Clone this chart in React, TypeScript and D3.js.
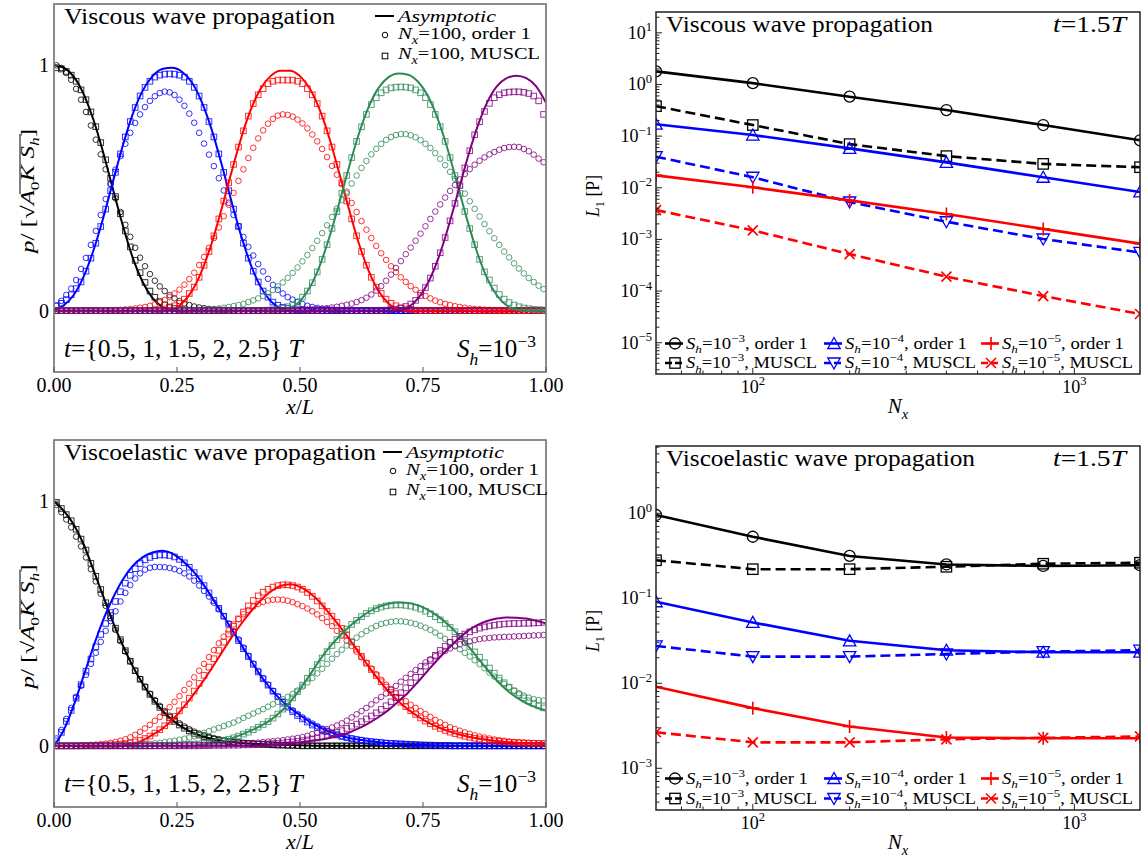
import * as d3 from "d3"

// cell centres of the N_x = 100 grid, and the sampling of the asymptotic curves
const cellX = d3.range(100).map(i => (i + 0.5) / 100)
const lineX = d3.range(51).map(j => j / 50)

// ---------- viscous wave, p / sqrt(A0 K Sh) ----------
const viscLineBlack = [1, .99, .954, .884, .779, .645, .494, .346, .216, .118,
  .052, .015, .002, 0, 0, 0, 0, 0, 0, 0,
  0, 0, 0, 0, 0, 0, 0, 0, 0, 0,
  0, 0, 0, 0, 0, 0, 0, 0, 0, 0,
  0, 0, 0, 0, 0, 0, 0, 0, 0, 0, 0]
const viscLineBlue = [.003, .022, .064, .138, .244, .378, .527, .674, .801, .896,
  .955, .985, .99, .974, .931, .852, .741, .602, .451, .308,
  .187, .097, .04, .01, .001, 0, 0, 0, 0, 0,
  0, 0, 0, 0, 0, 0, 0, 0, 0, 0,
  0, 0, 0, 0, 0, 0, 0, 0, 0, 0, 0]
const viscLineRed = [0, 0, 0, 0, 0, 0, 0, 0, 0, 0,
  0, .001, .005, .029, .079, .16, .272, .41, .559, .701,
  .819, .905, .956, .978, .978, .956, .905, .819, .701, .559,
  .41, .272, .16, .079, .029, .005, .001, 0, 0, 0,
  0, 0, 0, 0, 0, 0, 0, 0, 0, 0, 0]
const viscLineGreen = [0, 0, 0, 0, 0, 0, 0, 0, 0, 0,
  0, 0, 0, 0, 0, 0, 0, 0, 0, 0,
  0, 0, 0, .001, .01, .039, .095, .183, .301, .441,
  .588, .723, .833, .909, .952, .967, .962, .933, .875, .782,
  .659, .514, .369, .238, .134, .063, .021, .003, 0, 0, 0]
const viscLinePurple = [0, 0, 0, 0, 0, 0, 0, 0, 0, 0,
  0, 0, 0, 0, 0, 0, 0, 0, 0, 0,
  0, 0, 0, 0, 0, 0, 0, 0, 0, 0,
  0, 0, 0, 0, 0, .002, .014, .05, .113, .207,
  .331, .473, .618, .746, .847, .914, .948, .958, .948, .914, .847]

const viscO1Black = [1, .989, .969, .941, .904, .86, .81, .755, .697, .637,
  .576, .516, .458, .402, .35, .301, .256, .216, .181, .149,
  .122, .099, .08, .063, .05, .039, .03, .023, .017, .013,
  .01, .007, .005, .004, .003, .002, .001, 0, 0, 0,
  0, 0, 0, 0, 0, 0, 0, 0, 0, 0, 0, 0, 0, 0, 0, 0, 0, 0, 0, 0,
  0, 0, 0, 0, 0, 0, 0, 0, 0, 0, 0, 0, 0, 0, 0, 0, 0, 0, 0, 0,
  0, 0, 0, 0, 0, 0, 0, 0, 0, 0, 0, 0, 0, 0, 0, 0, 0, 0, 0, 0]
const viscO1Blue = [.02, .04, .064, .09, .125, .17, .215, .268, .325, .39,
  .455, .517, .575, .63, .68, .725, .765, .8, .83, .855,
  .874, .887, .893, .89, .879, .86, .835, .803, .766, .725,
  .681, .636, .589, .54, .49, .44, .39, .345, .3, .26,
  .225, .19, .16, .13, .105, .085, .07, .055, .045, .035,
  .027, .02, .015, .011, .008, .006, .004, .003, .002, 0,
  0, 0, 0, 0, 0, 0, 0, 0, 0, 0, 0, 0, 0, 0, 0, 0, 0, 0, 0, 0,
  0, 0, 0, 0, 0, 0, 0, 0, 0, 0, 0, 0, 0, 0, 0, 0, 0, 0, 0, 0]
const viscO1Red = [0, 0, 0, 0, 0, 0, 0, 0, 0, 0,
  .001, .002, .002, .003, .005, .006, .009, .012, .015, .02,
  .026, .034, .044, .055, .07, .086, .106, .129, .155, .186,
  .219, .256, .296, .339, .385, .432, .48, .529, .576, .622,
  .664, .702, .735, .762, .782, .795, .8, .798, .791, .779,
  .763, .743, .718, .69, .659, .626, .59, .554, .516, .478,
  .439, .402, .365, .33, .296, .264, .234, .207, .181, .157,
  .136, .117, .1, .085, .072, .06, .05, .041, .034, .028,
  .023, .018, .015, .012, .009, .007, .006, .004, .003, .002,
  .002, .001, 0, 0, 0, 0, 0, 0, 0, 0]
const viscO1Green = [0, 0, 0, 0, 0, 0, 0, 0, 0, 0,
  0, 0, 0, 0, 0, 0, 0, 0, 0, 0,
  0, 0, 0, 0, 0, 0, .001, .002, .002, .003,
  .004, .005, .007, .009, .012, .015, .019, .023, .028, .035,
  .042, .05, .06, .071, .084, .099, .115, .134, .154, .176,
  .201, .227, .255, .285, .316, .348, .382, .416, .451, .485,
  .518, .551, .582, .61, .637, .66, .68, .696, .708, .716,
  .72, .719, .715, .707, .695, .68, .663, .642, .619, .593,
  .566, .538, .508, .477, .446, .415, .384, .353, .324, .295,
  .268, .241, .217, .193, .172, .152, .133, .117, .102, .088]
const viscO1Purple = [0, 0, 0, 0, 0, 0, 0, 0, 0, 0,
  0, 0, 0, 0, 0, 0, 0, 0, 0, 0,
  0, 0, 0, 0, 0, 0, 0, 0, 0, 0,
  0, 0, 0, 0, 0, 0, 0, 0, 0, 0,
  0, 0, 0, 0, 0, 0, 0, 0, 0, 0,
  .003, .004, .005, .006, .008, .01, .013, .016, .02, .024,
  .029, .035, .043, .053, .066, .082, .1, .122, .147, .174,
  .202, .23, .257, .285, .314, .344, .374, .404, .433, .461,
  .488, .512, .535, .557, .577, .595, .611, .625, .637, .647,
  .656, .663, .667, .668, .667, .659, .65, .636, .62, .605]

const viscMuBlack = [.99, .985, .975, .96, .935, .9, .86, .81, .75, .685,
  .615, .54, .465, .395, .325, .26, .205, .155, .115, .08,
  .055, .037, .024, .015, .009, .005, .003, .002, 0, 0,
  0, 0, 0, 0, 0, 0, 0, 0, 0, 0, 0, 0, 0, 0, 0, 0, 0, 0, 0, 0,
  0, 0, 0, 0, 0, 0, 0, 0, 0, 0, 0, 0, 0, 0, 0, 0, 0, 0, 0, 0,
  0, 0, 0, 0, 0, 0, 0, 0, 0, 0, 0, 0, 0, 0, 0, 0, 0, 0, 0, 0,
  0, 0, 0, 0, 0, 0, 0, 0, 0, 0]
const viscMuBlue = [.02, .03, .045, .065, .09, .117, .161, .214, .275, .343,
  .414, .489, .564, .639, .708, .771, .828, .875, .91, .935,
  .952, .96, .964, .965, .964, .96, .952, .935, .91, .875,
  .828, .771, .708, .639, .564, .489, .414, .343, .275, .214,
  .161, .117, .08, .055, .035, .022, .014, .009, .006, .004,
  .003, .002, 0, 0, 0, 0, 0, 0, 0, 0,
  0, 0, 0, 0, 0, 0, 0, 0, 0, 0, 0, 0, 0, 0, 0, 0, 0, 0, 0, 0,
  0, 0, 0, 0, 0, 0, 0, 0, 0, 0, 0, 0, 0, 0, 0, 0, 0, 0, 0, 0]
const viscMuRed = [0, 0, 0, 0, 0, 0, 0, 0, 0, 0,
  0, 0, 0, 0, 0, 0, 0, 0, 0, 0,
  .002, .004, .007, .012, .02, .03, .047, .07, .096, .136,
  .185, .241, .305, .374, .447, .521, .596, .667, .733, .793,
  .844, .88, .905, .925, .935, .94, .94, .94, .94, .935,
  .925, .905, .88, .844, .793, .733, .667, .596, .521, .447,
  .374, .305, .241, .185, .136, .096, .07, .047, .03, .02,
  .012, .007, .004, .002, 0, 0, 0, 0, 0, 0,
  0, 0, 0, 0, 0, 0, 0, 0, 0, 0, 0, 0, 0, 0, 0, 0, 0, 0, 0, 0]
const viscMuGreen = [0, 0, 0, 0, 0, 0, 0, 0, 0, 0,
  0, 0, 0, 0, 0, 0, 0, 0, 0, 0,
  0, 0, 0, 0, 0, 0, 0, 0, 0, 0,
  0, 0, 0, 0, 0, 0, 0, 0, 0, 0,
  0, 0, 0, .002, .004, .006, .01, .016, .024, .036,
  .055, .08, .114, .158, .209, .269, .335, .404, .478, .551,
  .624, .69, .75, .8, .84, .868, .888, .9, .908, .911,
  .912, .911, .908, .9, .888, .868, .84, .8, .75, .69,
  .624, .551, .478, .404, .335, .269, .209, .158, .125, .092,
  .066, .047, .033, .023, .016, .011, .008, .005, .004, .003]
const viscMuPurple = [0, 0, 0, 0, 0, 0, 0, 0, 0, 0,
  0, 0, 0, 0, 0, 0, 0, 0, 0, 0,
  0, 0, 0, 0, 0, 0, 0, 0, 0, 0,
  0, 0, 0, 0, 0, 0, 0, 0, 0, 0,
  0, 0, 0, 0, 0, 0, 0, 0, 0, 0,
  0, 0, 0, 0, 0, 0, 0, 0, 0, 0,
  0, 0, 0, 0, 0, 0, 0, .002, .004, .006,
  .01, .017, .027, .042, .062, .094, .133, .181, .236, .298,
  .366, .437, .51, .582, .652, .717, .77, .812, .845, .868,
  .88, .888, .891, .892, .892, .89, .885, .875, .855, .8]

// ---------- viscoelastic wave ----------
const veLineBlack = [1, .96, .905, .825, .72, .612, .505, .41, .325, .255,
  .195, .145, .107, .078, .056, .04, .029, .021, .016, .012,
  .009, .007, .005, .004, .003, .002, .001, 0, 0, 0,
  0, 0, 0, 0, 0, 0, 0, 0, 0, 0,
  0, 0, 0, 0, 0, 0, 0, 0, 0, 0, 0]
const veLineBlue = [0, .065, .165, .285, .405, .515, .605, .68, .735, .77,
  .79, .797, .787, .758, .72, .67, .61, .545, .48, .415,
  .35, .287, .235, .19, .155, .125, .098, .076, .058, .043,
  .032, .025, .02, .015, .011, .008, .006, .004, .003, .002,
  .001, 0, 0, 0, 0, 0, 0, 0, 0, 0, 0]
const veLineRed = [0, 0, 0, 0, 0, 0, 0, .002, .008, .022,
  .045, .07, .105, .15, .2, .255, .315, .378, .44, .497,
  .549, .594, .63, .653, .66, .65, .625, .588, .54, .49,
  .437, .38, .323, .27, .222, .182, .148, .12, .096, .077,
  .061, .048, .038, .031, .025, .02, .016, .013, .011, .009, .008]
const veLineGreen = [0, 0, 0, 0, 0, 0, 0, 0, 0, 0,
  0, 0, 0, 0, 0, .005, .01, .016, .03, .045,
  .062, .082, .105, .138, .18, .232, .29, .35, .403, .448,
  .487, .52, .548, .568, .581, .586, .584, .574, .556, .53,
  .497, .458, .413, .363, .313, .267, .228, .198, .174, .157, .144]
const veLinePurple = [0, 0, 0, 0, 0, 0, 0, 0, 0, 0,
  0, 0, 0, 0, 0, 0, 0, 0, 0, 0,
  0, 0, .003, .006, .01, .015, .02, .025, .032, .041,
  .054, .072, .093, .118, .147, .182, .218, .262, .308, .353,
  .395, .434, .468, .493, .51, .52, .525, .524, .52, .511, .5]

const veO1Black = [.985, .955, .925, .893, .855, .815, .77, .722, .672, .622,
  .572, .522, .474, .428, .385, .345, .307, .273, .242, .213,
  .187, .163, .142, .123, .107, .092, .079, .068, .058, .05,
  .043, .037, .031, .027, .023, .02, .017, .014, .012, .01,
  .009, .007, .006, .005, .004, .003, .003, .002, .002, .001,
  0, 0, 0, 0, 0, 0, 0, 0, 0, 0, 0, 0, 0, 0, 0, 0, 0, 0, 0, 0,
  0, 0, 0, 0, 0, 0, 0, 0, 0, 0, 0, 0, 0, 0, 0, 0, 0, 0, 0, 0,
  0, 0, 0, 0, 0, 0, 0, 0, 0, 0]
const veO1Blue = [.03, .065, .11, .155, .2, .245, .29, .335, .38, .425,
  .47, .51, .55, .59, .625, .657, .684, .705, .72, .728,
  .731, .731, .73, .727, .722, .715, .705, .692, .675, .655,
  .633, .61, .585, .558, .53, .5, .468, .435, .402, .368,
  .336, .306, .277, .25, .225, .202, .181, .162, .145, .13,
  .116, .103, .091, .08, .07, .061, .053, .046, .04, .035,
  .031, .027, .024, .021, .018, .016, .014, .012, .01, .009,
  .008, .007, .006, .005, .004, .004, .003, .003, .002, .002,
  .001, 0, 0, 0, 0, 0, 0, 0, 0, 0,
  0, 0, 0, 0, 0, 0, 0, 0, 0, 0]
const veO1Red = [0, 0, 0, 0, .001, .002, .003, .004, .005, .007,
  .009, .012, .016, .021, .027, .035, .045, .057, .071, .086,
  .102, .118, .137, .158, .18, .203, .228, .254, .28, .307,
  .335, .363, .391, .419, .446, .472, .496, .518, .538, .555,
  .569, .58, .588, .594, .597, .598, .597, .593, .587, .579,
  .571, .561, .55, .537, .522, .506, .489, .47, .45, .43,
  .408, .385, .362, .339, .316, .293, .27, .25, .232, .215,
  .198, .183, .168, .155, .142, .13, .118, .106, .096, .086,
  .076, .069, .062, .055, .049, .043, .038, .034, .03, .026,
  .023, .021, .018, .016, .015, .014, .013, .012, .011, .011]
const veO1Green = [0, 0, 0, 0, 0, 0, 0, 0, 0, 0,
  0, 0, 0, 0, 0, .003, .004, .005, .006, .008,
  .01, .012, .015, .018, .021, .025, .029, .034, .039, .046,
  .053, .06, .067, .074, .081, .088, .095, .104, .114, .123,
  .132, .141, .15, .16, .17, .18, .19, .2, .212, .226,
  .242, .259, .277, .296, .315, .335, .356, .375, .393, .41,
  .427, .442, .456, .469, .48, .49, .498, .503, .507, .509,
  .509, .507, .503, .498, .491, .483, .474, .463, .45, .437,
  .424, .41, .395, .38, .365, .35, .334, .317, .299, .283,
  .268, .253, .239, .226, .215, .205, .197, .191, .187, .185]
const veO1Purple = [0, 0, 0, 0, 0, 0, 0, 0, 0, 0,
  0, 0, 0, 0, 0, 0, 0, 0, 0, 0,
  0, 0, 0, 0, 0, .001, .002, .002, .003, .003,
  .004, .004, .005, .005, .006, .007, .008, .009, .01, .011,
  .012, .013, .015, .017, .019, .021, .023, .026, .029, .032,
  .036, .041, .048, .054, .061, .068, .075, .083, .092, .103,
  .116, .129, .142, .155, .17, .186, .2, .214, .229, .245,
  .262, .278, .294, .31, .326, .341, .354, .366, .377, .388,
  .398, .407, .415, .421, .427, .432, .436, .439, .441, .443,
  .444, .445, .446, .447, .448, .449, .45, .451, .452, .453]

const veMuBlack = [.995, .97, .945, .92, .885, .845, .8, .746, .693, .639,
  .585, .532, .481, .434, .389, .346, .307, .272, .24, .21,
  .182, .157, .135, .116, .1, .085, .072, .061, .051, .044,
  .037, .032, .027, .023, .02, .017, .015, .013, .011, .01,
  .008, .007, .006, .005, .004, .003, .003, .002, .002, .001,
  0, 0, 0, 0, 0, 0, 0, 0, 0, 0, 0, 0, 0, 0, 0, 0, 0, 0, 0, 0,
  0, 0, 0, 0, 0, 0, 0, 0, 0, 0, 0, 0, 0, 0, 0, 0, 0, 0, 0, 0,
  0, 0, 0, 0, 0, 0, 0, 0, 0, 0]
const veMuBlue = [.02, .055, .1, .145, .195, .25, .305, .355, .405, .455,
  .5, .545, .59, .63, .665, .697, .724, .745, .76, .77,
  .777, .78, .78, .778, .772, .762, .748, .73, .708, .683,
  .655, .625, .594, .562, .53, .497, .464, .43, .397, .365,
  .333, .302, .274, .248, .223, .2, .178, .158, .14, .124,
  .11, .097, .085, .075, .066, .058, .051, .044, .038, .033,
  .029, .025, .022, .019, .017, .015, .013, .011, .01, .009,
  .008, .007, .006, .005, .004, .003, .003, .002, .002, .001,
  0, 0, 0, 0, 0, 0, 0, 0, 0, 0, 0, 0, 0, 0, 0, 0, 0, 0, 0, 0]
const veMuRed = [0, 0, 0, 0, 0, 0, .001, .001, .002, .002,
  .003, .004, .005, .007, .009, .012, .016, .022, .03, .04,
  .052, .066, .082, .1, .12, .143, .168, .195, .224, .255,
  .288, .322, .356, .39, .424, .457, .489, .519, .547, .572,
  .594, .613, .628, .64, .649, .655, .658, .658, .655, .649,
  .64, .627, .611, .592, .572, .55, .53, .505, .48, .452,
  .424, .395, .366, .338, .312, .287, .262, .24, .218, .197,
  .178, .16, .143, .128, .114, .101, .09, .08, .071, .063,
  .056, .05, .044, .039, .035, .031, .028, .025, .022, .02,
  .018, .016, .014, .013, .012, .011, .01, .01, .009, .009]
const veMuGreen = [0, 0, 0, 0, 0, 0, 0, 0, 0, 0,
  0, 0, 0, 0, 0, 0, 0, 0, 0, 0,
  .001, .002, .002, .003, .003, .004, .005, .006, .007, .008,
  .01, .012, .015, .018, .022, .027, .033, .04, .048, .056,
  .066, .076, .087, .099, .113, .13, .15, .172, .196, .221,
  .248, .276, .304, .332, .359, .385, .41, .434, .456, .477,
  .496, .513, .528, .541, .552, .561, .567, .572, .575, .576,
  .576, .574, .571, .566, .559, .55, .54, .528, .515, .5,
  .484, .466, .447, .427, .406, .384, .362, .34, .318, .297,
  .277, .258, .24, .224, .209, .196, .184, .173, .163, .155]
const veMuPurple = [0, 0, 0, 0, 0, 0, 0, 0, 0, 0,
  0, 0, 0, 0, 0, 0, 0, 0, 0, 0,
  0, 0, 0, 0, 0, 0, 0, 0, 0, 0,
  .001, .001, .002, .002, .002, .003, .003, .003, .004, .004,
  .005, .006, .007, .008, .009, .01, .012, .014, .016, .018,
  .021, .024, .028, .032, .037, .042, .048, .055, .062, .071,
  .08, .089, .099, .11, .122, .135, .149, .164, .18, .198,
  .217, .237, .258, .28, .303, .326, .349, .37, .39, .407,
  .423, .436, .447, .457, .466, .474, .481, .486, .49, .493,
  .496, .498, .499, .5, .5, .501, .501, .502, .503, .505]

// ---------- L1 error against N_x ----------
const nx = [50, 100, 200, 400, 800, 1600]
const viscErrSh3Order1 = [1.79, 1.06, 0.58, 0.32, 0.164, 0.083]
const viscErrSh3Muscl = [0.38, 0.164, 0.07, 0.041, 0.029, 0.025]
const viscErrSh4Order1 = [0.17, 0.105, 0.058, 0.031, 0.016, 0.0083]
const viscErrSh4Muscl = [0.04, 0.016, 0.0053, 0.0022, 0.00102, 0.00056]
const viscErrSh5Order1 = [0.0174, 0.0102, 0.0057, 0.0031, 0.0016, 0.00083]
const viscErrSh5Muscl = [0.0037, 0.0015, 0.00052, 0.00019, 0.00008, 0.000036]
const veErrSh3Order1 = [0.955, 0.53, 0.315, 0.25, 0.24, 0.245]
const veErrSh3Muscl = [0.28, 0.22, 0.22, 0.235, 0.255, 0.262]
const veErrSh4Order1 = [0.091, 0.052, 0.0316, 0.0245, 0.0232, 0.0232]
const veErrSh4Muscl = [0.0275, 0.0206, 0.0206, 0.0221, 0.0236, 0.0245]
const veErrSh5Order1 = [0.0091, 0.0051, 0.0031, 0.0023, 0.00226, 0.00226]
const veErrSh5Muscl = [0.00265, 0.00202, 0.00202, 0.00219, 0.00228, 0.00237]

const profileXTicks = [0, 0.25, 0.5, 0.75, 1]
const profileXTickLabels = ["0.00", "0.25", "0.50", "0.75", "1.00"]
const profileYTicks = [0, 1]
const profileYTickLabels = ["0", "1"]

const FONT = "'Liberation Serif', 'Times New Roman', serif"
const BLACK = "#000000"
const BLUE = "#0000ff"
const RED = "#ff0000"
const GREEN = "#2e8b57"
const PURPLE = "#800080"

type Box = { x0: number; x1: number; y0: number; y1: number }
type Part = [string, string?]

// text with italic / sub / sup runs; flags: i italic, b subscript, p superscript
function mtext(parts: Part[], fs: number) {
  let shift = 0
  return parts.map(([t, f = ""], k) => {
    const target = f.includes("b") ? fs * 0.3 : f.includes("p") ? -fs * 0.42 : 0
    const dy = target - shift
    shift = target
    return (
      <tspan key={k} dy={dy !== 0 ? dy : undefined}
        fontStyle={f.includes("i") ? "italic" : undefined}
        fontSize={f.includes("b") || f.includes("p") ? fs * 0.7 : undefined}>{t}</tspan>
    )
  })
}

const shLabel = (e: string, scheme: string): Part[] =>
  [["S", "i"], ["h", "ib"], ["=10"], ["\u2212" + e, "p"], [", " + scheme]]
const tLabel: Part[] = [["t", "i"], ["={0.5, 1, 1.5, 2, 2.5} "], ["T", "i"]]
const shAnnot: Part[] = [["S", "i"], ["h", "ib"], ["=10"], ["\u22123", "p"]]
const t15: Part[] = [["t", "i"], ["=1.5"], ["T", "i"]]

type ProfileRow = { color: string; line: number[]; o1: number[]; mu: number[] }

const viscRows: ProfileRow[] = [
  { color: BLACK, line: viscLineBlack, o1: viscO1Black, mu: viscMuBlack },
  { color: BLUE, line: viscLineBlue, o1: viscO1Blue, mu: viscMuBlue },
  { color: RED, line: viscLineRed, o1: viscO1Red, mu: viscMuRed },
  { color: GREEN, line: viscLineGreen, o1: viscO1Green, mu: viscMuGreen },
  { color: PURPLE, line: viscLinePurple, o1: viscO1Purple, mu: viscMuPurple },
]
const veRows: ProfileRow[] = [
  { color: BLACK, line: veLineBlack, o1: veO1Black, mu: veMuBlack },
  { color: BLUE, line: veLineBlue, o1: veO1Blue, mu: veMuBlue },
  { color: RED, line: veLineRed, o1: veO1Red, mu: veMuRed },
  { color: GREEN, line: veLineGreen, o1: veO1Green, mu: veMuGreen },
  { color: PURPLE, line: veLinePurple, o1: veO1Purple, mu: veMuPurple },
]

type ErrSeries = { color: string; dashed: boolean; marker: string; values: number[]; label: Part[]; len: number }
const errSeries = (s3o: number[], s3m: number[], s4o: number[], s4m: number[], s5o: number[], s5m: number[]): ErrSeries[] => [
  { color: BLACK, dashed: false, marker: "circle", values: s3o, label: shLabel("3", "order 1"), len: 122 },
  { color: BLACK, dashed: true, marker: "square", values: s3m, label: shLabel("3", "MUSCL"), len: 131 },
  { color: BLUE, dashed: false, marker: "up", values: s4o, label: shLabel("4", "order 1"), len: 122 },
  { color: BLUE, dashed: true, marker: "down", values: s4m, label: shLabel("4", "MUSCL"), len: 131 },
  { color: RED, dashed: false, marker: "plus", values: s5o, label: shLabel("5", "order 1"), len: 122 },
  { color: RED, dashed: true, marker: "x", values: s5m, label: shLabel("5", "MUSCL"), len: 131 },
]
const viscErr = errSeries(viscErrSh3Order1, viscErrSh3Muscl, viscErrSh4Order1, viscErrSh4Muscl, viscErrSh5Order1, viscErrSh5Muscl)
const veErr = errSeries(veErrSh3Order1, veErrSh3Muscl, veErrSh4Order1, veErrSh4Muscl, veErrSh5Order1, veErrSh5Muscl)

function Marker({ kind, cx, cy, color }: { kind: string; cx: number; cy: number; color: string }) {
  const st = { fill: "none", stroke: color, strokeWidth: 1.3 }
  if (kind === "circle") return <circle cx={cx} cy={cy} r={5.5} {...st} />
  if (kind === "square") return <rect x={cx - 5.2} y={cy - 5.2} width={10.4} height={10.4} {...st} />
  if (kind === "up") return <path d={`M${cx},${cy - 6}L${cx + 6.2},${cy + 5}L${cx - 6.2},${cy + 5}Z`} {...st} />
  if (kind === "down") return <path d={`M${cx},${cy + 6}L${cx + 6.2},${cy - 5}L${cx - 6.2},${cy - 5}Z`} {...st} />
  if (kind === "plus") return <path d={`M${cx - 6.5},${cy}H${cx + 6.5}M${cx},${cy - 6.5}V${cy + 6.5}`} {...st} strokeWidth={1.6} />
  return <path d={`M${cx - 5},${cy - 5}L${cx + 5},${cy + 5}M${cx - 5},${cy + 5}L${cx + 5},${cy - 5}`} {...st} strokeWidth={1.6} />
}

function ProfilePanel({ id, box, rows, title, titleLen, hx }: {
  id: string; box: Box; rows: ProfileRow[]; title: string; titleLen: number; hx: number
}) {
  const x = d3.scaleLinear().domain([0, 1]).range([box.x0, box.x1])
  const y = d3.scaleLinear().domain([-0.25, 1.25]).range([box.y1, box.y0])
  const line = d3.line<number>().x((_, i) => x(lineX[i])).y(v => y(v)).curve(d3.curveMonotoneX)
  const cy = (box.y0 + box.y1) / 2 + 3
  return (
    <g>
      <clipPath id={id}><rect x={box.x0} y={box.y0} width={box.x1 - box.x0} height={box.y1 - box.y0} /></clipPath>
      <g clipPath={`url(#${id})`}>
        {rows.map((r, k) => (
          <g key={k}>
            <path d={line(r.line) || ""} fill="none" stroke={r.color} strokeWidth={2} />
            {r.o1.map((v, i) => (
              <circle key={`o${i}`} cx={x(cellX[i])} cy={y(v)} r={2.8} fill="none" stroke={r.color} strokeOpacity={0.8} strokeWidth={1} />
            ))}
            {r.mu.map((v, i) => (
              <rect key={`m${i}`} x={x(cellX[i]) - 2.8} y={y(v) - 2.8} width={5.6} height={5.6} fill="none" stroke={r.color} strokeOpacity={0.8} strokeWidth={1} />
            ))}
          </g>
        ))}
      </g>
      <rect x={box.x0} y={box.y0} width={box.x1 - box.x0} height={box.y1 - box.y0} fill="none" stroke="#808080" strokeWidth={1.8} />
      {profileXTicks.map((t, i) => (
        <g key={`xt${i}`}>
          <line x1={x(t)} x2={x(t)} y1={box.y1} y2={box.y1 - 5} stroke="#555" />
          <text x={x(t)} y={box.y1 + 20} textAnchor="middle" fontSize={20}>{profileXTickLabels[i]}</text>
        </g>
      ))}
      {profileYTicks.map((t, i) => (
        <g key={`yt${i}`}>
          <line x1={box.x0} x2={box.x0 + 5} y1={y(t)} y2={y(t)} stroke="#555" />
          <text x={box.x0 - 5} y={y(t) + 7} textAnchor="end" fontSize={20}>{profileYTickLabels[i]}</text>
        </g>
      ))}
      <text x={(box.x0 + box.x1) / 2} y={box.y1 + 42} textAnchor="middle" fontSize={22}>{mtext([["x", "i"], ["/"], ["L", "i"]], 22)}</text>
      <g transform={`translate(34,${cy}) rotate(-90)`}>
        <text x={0} y={0} textAnchor="middle" fontSize={18} textLength={124} lengthAdjust="spacingAndGlyphs">
          {mtext([["p", "i"], ["/ ["], ["\u221a"], ["A", "i"], ["0", "b"], ["K", "i"], [" "], ["S", "i"], ["h", "ib"], ["]"]], 18)}
        </text>
        <line x1={-3} x2={57} y1={-14} y2={-14} stroke="#000" strokeWidth={1} />
      </g>
      <text x={box.x0 + 10} y={box.y0 + 20} fontSize={24} textLength={titleLen} lengthAdjust="spacingAndGlyphs">{title}</text>
      <line x1={hx} x2={hx + 19} y1={box.y0 + 12} y2={box.y0 + 12} stroke={BLACK} strokeWidth={2} />
      <text x={hx + 23} y={box.y0 + 18} fontSize={17} fontStyle="italic" textLength={98} lengthAdjust="spacingAndGlyphs">Asymptotic</text>
      <circle cx={hx + 10} cy={box.y0 + 31} r={2.8} fill="none" stroke={BLACK} strokeWidth={1} />
      <text x={hx + 23} y={box.y0 + 35} fontSize={17} textLength={133} lengthAdjust="spacingAndGlyphs">{mtext([["N", "i"], ["x", "ib"], ["=100, order 1"]], 17)}</text>
      <rect x={hx + 7.2} y={box.y0 + 49.2} width={5.6} height={5.6} fill="none" stroke={BLACK} strokeWidth={1} />
      <text x={hx + 23} y={box.y0 + 55} fontSize={17} textLength={142} lengthAdjust="spacingAndGlyphs">{mtext([["N", "i"], ["x", "ib"], ["=100, MUSCL"]], 17)}</text>
      <text x={box.x0 + 10} y={box.y1 - 15} fontSize={25.5}>{mtext(tLabel, 25.5)}</text>
      <text x={box.x1 - 10} y={box.y1 - 15} fontSize={25} textAnchor="end">{mtext(shAnnot, 25)}</text>
    </g>
  )
}

function ErrorPanel({ id, box, yDomain, series, title, titleLen, rowsY }: {
  id: string; box: Box; yDomain: [number, number]; series: ErrSeries[]; title: string; titleLen: number; rowsY: number[]
}) {
  const x = d3.scaleLog().domain([50, 1600]).range([box.x0, box.x1])
  const y = d3.scaleLog().domain(yDomain).range([box.y1, box.y0])
  const line = d3.line<number>().x((_, i) => x(nx[i])).y(v => y(v))
  const isMajor = (v: number) => Math.abs(Math.log10(v) - Math.round(Math.log10(v))) < 1e-9
  const xt = x.ticks().filter(v => v > 50 && v < 1600)
  const yt = y.ticks().filter(v => v > yDomain[0] && v < yDomain[1])
  const cols = [665, 824, 981]
  const cy = (box.y0 + box.y1) / 2 + 3
  return (
    <g>
      <clipPath id={id}><rect x={box.x0} y={box.y0} width={box.x1 - box.x0} height={box.y1 - box.y0} /></clipPath>
      <g clipPath={`url(#${id})`}>
        {series.map((s, k) => (
          <g key={k}>
            <path d={line(s.values) || ""} fill="none" stroke={s.color} strokeWidth={2.6} strokeDasharray={s.dashed ? "10 5" : undefined} />
            {s.values.map((v, i) => <Marker key={i} kind={s.marker} cx={x(nx[i])} cy={y(v)} color={s.color} />)}
          </g>
        ))}
      </g>
      <rect x={box.x0} y={box.y0} width={box.x1 - box.x0} height={box.y1 - box.y0} fill="none" stroke="#222" strokeWidth={1.5} />
      {xt.map((v, i) => {
        const major = isMajor(v)
        return (
          <g key={`xt${i}`}>
            <line x1={x(v)} x2={x(v)} y1={box.y1} y2={box.y1 - (major ? 6 : 3.5)} stroke="#222" />
            {major && (
              <text x={x(v)} y={box.y1 + 19} textAnchor="middle" fontSize={18}>
                {mtext([["10"], [String(Math.round(Math.log10(v))), "p"]], 18)}
              </text>
            )}
          </g>
        )
      })}
      {yt.map((v, i) => {
        const major = isMajor(v)
        const e = Math.round(Math.log10(v))
        return (
          <g key={`yt${i}`}>
            <line x1={box.x0} x2={box.x0 + (major ? 6 : 3.5)} y1={y(v)} y2={y(v)} stroke="#222" />
            {major && (
              <text x={box.x0 - 4} y={y(v) + 6} textAnchor="end" fontSize={18}>
                {mtext([["10"], [(e < 0 ? "\u2212" : "") + Math.abs(e), "p"]], 18)}
              </text>
            )}
          </g>
        )
      })}
      <text x={(box.x0 + box.x1) / 2} y={box.y1 + 39} textAnchor="middle" fontSize={21}>{mtext([["N", "i"], ["x", "ib"]], 21)}</text>
      <g transform={`translate(599,${cy}) rotate(-90)`}>
        <text x={0} y={0} textAnchor="middle" fontSize={18} textLength={42} lengthAdjust="spacingAndGlyphs">
          {mtext([["L", "i"], ["1", "b"], [" [P]"]], 18)}
        </text>
      </g>
      <text x={box.x0 + 10} y={box.y0 + 20} fontSize={24} textLength={titleLen} lengthAdjust="spacingAndGlyphs">{title}</text>
      <text x={box.x1 - 14} y={box.y0 + 20} fontSize={24} textAnchor="end" textLength={73} lengthAdjust="spacingAndGlyphs">{mtext(t15, 24)}</text>
      {series.map((s, k) => {
        const hx = cols[Math.floor(k / 2)]
        const ry = rowsY[k % 2]
        return (
          <g key={`lg${k}`}>
            <line x1={hx} x2={hx + 18} y1={ry} y2={ry} stroke={s.color} strokeWidth={2.6} strokeDasharray={s.dashed ? "7 3" : undefined} />
            <Marker kind={s.marker} cx={hx + 10} cy={ry} color={s.color} />
            <text x={hx + 21} y={ry + 5} fontSize={16} textLength={s.len} lengthAdjust="spacingAndGlyphs">{mtext(s.label, 16)}</text>
          </g>
        )
      })}
    </g>
  )
}

export default function App() {
  return (
    <svg width={1146} height={859} viewBox="0 0 1146 859"
      style={{ position: "absolute", left: 0, top: 0, background: "#fff" }}
      fontFamily={FONT}>
      <rect x={0} y={0} width={1146} height={859} fill="#fff" />
      <ProfilePanel id="clip-tl" box={{ x0: 54, x1: 546, y0: 4, y1: 372 }} rows={viscRows}
        title="Viscous wave propagation" titleLen={271} hx={375} />
      <ProfilePanel id="clip-bl" box={{ x0: 54, x1: 546, y0: 440, y1: 807 }} rows={veRows}
        title="Viscoelastic wave propagation" titleLen={312} hx={383} />
      <ErrorPanel id="clip-tr" box={{ x0: 656, x1: 1140, y0: 12, y1: 374 }} yDomain={[2.48e-6, 25.3]}
        series={viscErr} title="Viscous wave propagation" titleLen={267} rowsY={[343.5, 363]} />
      <ErrorPanel id="clip-br" box={{ x0: 656, x1: 1140, y0: 446, y1: 810 }} yDomain={[3.23e-4, 6.19]}
        series={veErr} title="Viscoelastic wave propagation" titleLen={309} rowsY={[778.5, 798.5]} />
    </svg>
  )
}
